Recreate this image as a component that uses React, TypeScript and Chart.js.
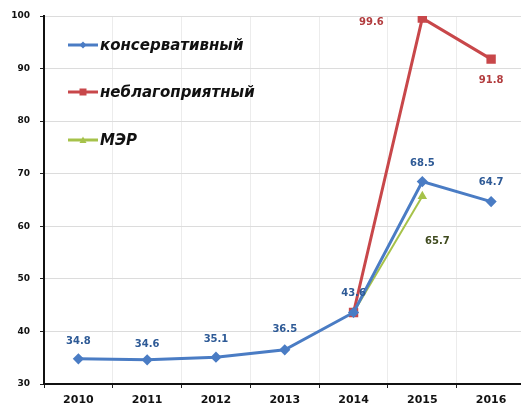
import React, { useEffect, useRef } from "react";
import { Chart, registerables } from "chart.js";
Chart.register(...registerables);

const categories = ["2010", "2011", "2012", "2013", "2014", "2015", "2016"];
const conservative = [34.8, 34.6, 35.1, 36.5, 43.6, 68.5, 64.7];
const unfavorable = [null, null, null, null, 43.6, 99.6, 91.8];
const mer = [null, null, null, null, 43.6, 65.7, null];
const yTicks = [30, 40, 50, 60, 70, 80, 90, 100];
const seriesNames = ["консервативный", "неблагоприятный", "МЭР"];

const BLUE = "#4a7cc4";
const RED = "#c8474a";
const GREEN = "#a6c24a";
const FONT = "'DejaVu Sans', Arial, sans-serif";

const labelCfg: Record<number, { color: string; off: Record<number, [number, number]> }> = {
  0: { color: "#2e5a96", off: { 0: [0, -17], 1: [0, -15], 2: [0, -18], 3: [0, -20], 4: [0, -19], 5: [0, -18], 6: [0, -19] } },
  1: { color: "#b23c3e", off: { 5: [-51, 4], 6: [0, 21] } },
  2: { color: "#3f4a1e", off: { 5: [15, 45] } },
};

const labelsPlugin = {
  id: "valLabels",
  afterDatasetsDraw(chart: any) {
    const ctx = chart.ctx;
    ctx.save();
    ctx.font = "bold 10px " + FONT;
    ctx.textAlign = "center";
    ctx.textBaseline = "middle";
    chart.data.datasets.forEach((ds: any, di: number) => {
      const meta = chart.getDatasetMeta(di);
      const cfg = labelCfg[di];
      meta.data.forEach((pt: any, i: number) => {
        const v = ds.data[i];
        if (v == null) return;
        const off = cfg.off[i];
        if (!off) return;
        ctx.fillStyle = cfg.color;
        ctx.fillText(v.toFixed(1), pt.x + off[0], pt.y + off[1]);
      });
    });
    ctx.restore();
  },
};

const legendPlugin = {
  id: "insideLegend",
  afterDraw(chart: any) {
    const ctx = chart.ctx;
    const colors = [BLUE, RED, GREEN];
    const ys = [45, 92, 140];
    ctx.save();
    seriesNames.forEach((name, i) => {
      const y = ys[i];
      ctx.strokeStyle = colors[i];
      ctx.lineWidth = 3;
      ctx.beginPath();
      ctx.moveTo(68, y);
      ctx.lineTo(98, y);
      ctx.stroke();
      ctx.fillStyle = colors[i];
      const cx = 83;
      ctx.beginPath();
      if (i === 0) {
        ctx.moveTo(cx, y - 3.5); ctx.lineTo(cx + 3.5, y); ctx.lineTo(cx, y + 3.5); ctx.lineTo(cx - 3.5, y);
      } else if (i === 1) {
        ctx.rect(cx - 3.5, y - 3.5, 7, 7);
      } else {
        ctx.moveTo(cx, y - 3.5); ctx.lineTo(cx + 3.5, y + 3); ctx.lineTo(cx - 3.5, y + 3);
      }
      ctx.closePath();
      ctx.fill();
      ctx.fillStyle = "#111";
      ctx.font = "italic bold 15px " + FONT;
      ctx.textAlign = "left";
      ctx.textBaseline = "middle";
      ctx.fillText(name, 100, y + 1);
    });
    ctx.restore();
  },
};

export default function App() {
  const ref = useRef<HTMLCanvasElement>(null);
  useEffect(() => {
    document.body.style.margin = "0";
    const chart = new Chart(ref.current!, {
      type: "line",
      data: {
        labels: categories,
        datasets: [
          {
            label: seriesNames[0],
            data: conservative,
            borderColor: BLUE,
            backgroundColor: BLUE,
            borderWidth: 3,
            pointStyle: "rectRot",
            pointRadius: 3.5,
            tension: 0,
          },
          {
            label: seriesNames[1],
            data: unfavorable as any,
            borderColor: RED,
            backgroundColor: RED,
            borderWidth: 3,
            pointStyle: "rect",
            pointRadius: 4.5,
            tension: 0,
          },
          {
            label: seriesNames[2],
            data: mer as any,
            borderColor: GREEN,
            backgroundColor: GREEN,
            borderWidth: 2,
            pointStyle: "triangle",
            pointRadius: 3.5,
            tension: 0,
          },
        ],
      },
      options: {
        animation: false,
        responsive: false,
        maintainAspectRatio: false,
        layout: { padding: { left: 4, top: 16, right: 0, bottom: 0 } },
        plugins: { legend: { display: false }, tooltip: { enabled: false } },
        scales: {
          x: {
            offset: true,
            grid: { offset: true, color: "#ececec", tickColor: "#222", tickLength: 4, lineWidth: 1 },
            border: { color: "#111", width: 2 },
            ticks: { color: "#111", font: { family: FONT, size: 11, weight: "bold" }, padding: 6 },
            afterFit: (s: any) => { s.height = 29; },
          },
          y: {
            min: 30,
            max: 100,
            afterBuildTicks: (s: any) => { s.ticks = yTicks.map((v) => ({ value: v })); },
            grid: { color: "#dcdcdc", tickColor: "#222", tickLength: 4 },
            border: { color: "#111", width: 2 },
            ticks: { color: "#111", font: { family: FONT, size: 9, weight: "bold" }, padding: 10 },
            afterFit: (s: any) => { s.width = 40; },
          },
        },
      },
      plugins: [labelsPlugin, legendPlugin],
    });
    return () => chart.destroy();
  }, []);
  return (
    <div style={{ position: "absolute", left: 0, top: 0, width: 521, height: 413, overflow: "hidden" }}>
      <canvas ref={ref} width={533} height={413} />
    </div>
  );
}
